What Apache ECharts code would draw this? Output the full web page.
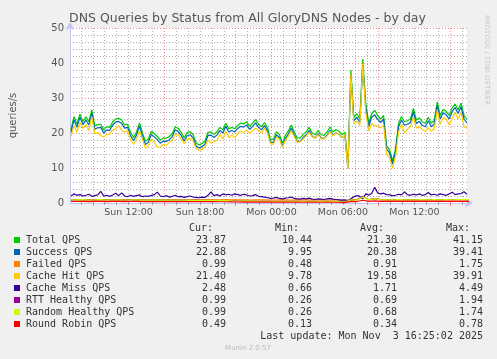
<!DOCTYPE html>
<html><head><meta charset="utf-8">
<script src="https://cdn.jsdelivr.net/npm/echarts@6/dist/echarts.min.js"></script>
<style>html,body{margin:0;padding:0;background:#F0F0F0}#c{width:497px;height:359px}</style>
</head><body><div id="c"></div>
<script>
// ---- time axis (hours since Sun 00:00) ----
const axisStartHour = 7 + 5/60;     // Sun 07:05
const axisEndHour = 40 + 25/60;     // Mon 16:25
const labelHours = [12, 18, 24, 30, 36];
const labelTexts = ['Sun 12:00', 'Sun 18:00', 'Mon 00:00', 'Mon 06:00', 'Mon 12:00'];
const majorGridHours = [9, 15, 21, 27, 33, 39];
const minorGridHours = [8,10,11,12,13,14,16,17,18,19,20,22,23,24,25,26,28,29,30,31,32,34,35,36,37,38,40];
const yTicks = [0, 10, 20, 30, 40, 50];

// main series: 15 minute samples from Sun 07:10
const mainStart = 7 + 10/60, mainStep = 0.25;
const totalQPS = [
21.0,24.7,22.5,25.4,23.3,24.6,23.2,26.6,22.0,22.4,
22.5,20.9,21.8,21.6,23.2,24.0,24.2,23.7,22.3,22.5,
20.2,18.7,20.3,22.9,20.0,17.6,18.3,20.5,19.8,19.0,
18.0,18.6,18.5,19.0,19.8,21.8,21.3,20.2,18.6,20.1,
20.4,19.5,17.2,16.6,17.0,17.7,20.2,20.3,19.6,20.3,
21.6,20.9,22.8,21.2,21.6,21.2,22.2,22.8,22.6,23.2,
21.9,22.8,23.8,22.5,21.8,23.0,21.5,18.2,18.2,20.4,
19.6,17.1,19.3,20.6,22.3,20.2,18.5,18.6,19.6,20.4,
21.6,20.0,19.5,20.7,19.5,19.3,20.3,21.7,20.3,21.0,
20.5,19.5,20.2,10.44,38.0,24.5,25.5,24.0,41.15,28.5,
22.8,25.5,26.5,25.0,24.0,25.0,16.3,15.2,12.0,15.5,
22.8,24.7,23.2,23.5,24.0,27.0,23.7,24.3,23.2,22.8,
24.5,22.8,23.6,28.9,25.0,26.8,26.2,25.0,27.2,28.3,
26.6,28.5,25.0,23.87];
const successQPS = [
20.1,23.8,21.6,24.5,22.4,23.7,22.3,25.7,21.1,21.5,
21.6,20.0,20.9,20.7,22.3,23.1,23.3,22.8,21.4,21.6,
19.3,17.8,19.4,22.0,19.1,16.7,17.4,19.6,18.9,18.1,
17.1,17.7,17.6,18.1,18.9,20.9,20.4,19.3,17.7,19.2,
19.5,18.6,16.3,15.7,16.1,16.8,19.3,19.4,18.7,19.4,
20.7,20.0,21.9,20.3,20.7,20.3,21.3,21.9,21.7,22.3,
21.0,21.9,22.9,21.6,20.9,22.1,20.6,17.3,17.3,19.5,
18.7,16.2,18.4,19.7,21.4,19.3,17.6,17.7,18.7,19.5,
20.7,19.1,18.6,19.8,18.6,18.4,19.4,20.8,19.4,20.1,
19.6,18.6,19.3,9.95,36.6,23.5,24.5,23.0,39.41,27.4,
21.8,24.5,25.2,23.9,23.0,24.0,15.4,14.3,11.1,14.6,
21.8,23.7,22.2,22.5,23.0,26.0,22.7,23.3,22.2,21.8,
23.5,21.8,22.6,27.8,24.0,25.8,25.2,24.0,26.1,27.3,
25.6,27.5,24.0,22.88];
const cacheHitQPS = [
19.0,22.1,20.3,23.0,21.3,22.4,20.7,24.7,19.9,20.1,
19.2,18.9,19.6,19.7,20.9,21.2,22.1,20.8,20.3,20.7,
18.0,16.8,18.2,20.6,18.2,15.6,16.4,18.3,17.4,15.9,
16.0,16.8,16.4,17.3,17.9,19.6,19.5,18.3,17.0,18.3,
18.4,17.8,15.6,15.1,15.3,16.1,18.0,17.1,17.5,17.9,
19.6,18.3,20.5,18.7,19.4,18.6,19.8,20.6,20.1,20.9,
19.9,20.7,21.4,20.6,20.0,21.3,20.0,16.9,16.8,18.8,
18.3,15.9,17.9,19.1,20.6,18.9,17.3,17.5,18.3,19.2,
20.2,18.9,18.5,19.5,18.4,18.3,19.1,20.4,19.2,20.0,
19.6,18.7,19.3,9.78,36.8,22.7,23.4,22.1,39.91,25.9,
20.6,22.7,22.0,22.1,21.4,22.2,13.9,12.9,9.9,13.3,
20.3,22.4,20.0,21.1,21.8,24.5,21.4,21.7,21.0,20.4,
21.5,20.5,21.1,26.7,22.4,24.4,24.0,22.4,24.1,25.9,
24.0,25.8,21.8,21.40];
const cacheMissQPS = [
2.0,2.6,2.2,2.4,2.0,2.2,2.5,1.9,2.1,2.3,
3.3,2.0,2.2,1.9,2.3,2.8,2.1,2.9,2.0,1.8,
2.2,1.9,2.1,2.3,1.8,2.0,1.9,2.2,2.4,3.1,
2.0,1.8,2.1,1.7,1.9,2.2,1.8,1.9,1.6,1.8,
2.0,1.7,1.6,1.5,1.7,1.6,2.2,3.2,2.1,2.4,
2.0,2.6,2.3,2.5,2.2,2.6,2.4,2.2,2.5,2.3,
2.0,2.1,2.4,1.9,1.8,1.7,1.5,1.3,1.4,1.6,
1.3,1.2,1.4,1.5,1.7,1.3,1.2,1.1,1.3,1.2,
1.4,1.1,1.0,1.2,1.1,1.0,1.2,1.3,1.1,1.0,
0.9,0.8,0.9,0.66,1.2,1.8,2.1,1.9,1.24,2.6,
2.2,2.8,4.49,2.9,2.6,2.8,2.4,2.3,2.1,2.2,
2.5,2.3,3.2,2.4,2.2,2.5,2.3,2.6,2.2,2.4,
3.0,2.3,2.5,2.2,2.6,2.4,2.2,2.6,3.1,2.4,
2.6,2.7,3.2,2.48];

// small series: 30 minute samples from Sun 07:10
const smallStart = 7 + 10/60, smallStep = 0.5;
const failedQPS = [
0.95,1.0,0.92,0.98,0.9,0.96,1.0,0.93,0.9,0.97,
0.94,0.9,0.95,0.92,0.88,0.9,0.93,0.9,0.87,0.9,
0.92,0.89,0.9,0.94,0.9,0.92,0.95,0.9,0.88,0.9,
0.86,0.88,0.9,0.87,0.85,0.88,0.9,0.86,0.88,0.9,
0.87,0.85,0.88,0.86,0.9,0.88,0.48,1.1,1.0,1.75,
1.0,1.2,0.95,0.92,0.9,0.96,0.93,0.9,0.95,0.92,
0.97,0.94,0.9,0.96,0.93,0.98,0.99,0.99];
const rttHealthyQPS = [
0.92,0.88,0.95,0.85,0.9,0.97,0.86,0.9,0.93,0.84,
0.88,0.91,0.85,0.82,0.88,0.8,0.84,0.78,0.82,0.79,
0.75,0.8,0.77,0.74,0.78,0.72,0.7,0.62,0.58,0.55,
0.6,0.52,0.5,0.55,0.48,0.5,0.46,0.52,0.48,0.45,
0.5,0.47,0.44,0.48,0.45,0.42,0.26,0.9,0.85,1.94,
0.9,1.3,0.95,0.88,0.92,0.96,0.9,0.94,0.88,0.95,
0.92,0.97,0.9,0.96,0.93,0.98,0.99,0.99];
const randomHealthyQPS = [
0.9,0.87,0.94,0.86,0.9,0.95,0.85,0.9,0.92,0.85,
0.87,0.9,0.84,0.82,0.87,0.8,0.83,0.78,0.81,0.78,
0.75,0.79,0.76,0.74,0.77,0.72,0.7,0.62,0.57,0.55,
0.59,0.52,0.5,0.54,0.48,0.5,0.46,0.51,0.48,0.45,
0.49,0.47,0.44,0.47,0.45,0.42,0.26,0.88,0.84,1.74,
0.9,1.25,0.94,0.88,0.91,0.95,0.9,0.93,0.88,0.94,
0.92,0.96,0.9,0.95,0.93,0.97,0.99,0.99];
const roundRobinQPS = [
0.45,0.43,0.47,0.42,0.45,0.48,0.42,0.45,0.46,0.42,
0.43,0.45,0.42,0.41,0.43,0.4,0.41,0.39,0.4,0.39,
0.37,0.39,0.38,0.37,0.38,0.36,0.35,0.31,0.28,0.27,
0.29,0.26,0.25,0.27,0.24,0.25,0.23,0.25,0.24,0.22,
0.24,0.23,0.22,0.23,0.22,0.21,0.13,0.44,0.42,0.78,
0.45,0.62,0.47,0.44,0.45,0.47,0.45,0.46,0.44,0.47,
0.46,0.48,0.45,0.47,0.46,0.48,0.49,0.49];

// legend table
const seriesNames = ['Total QPS','Success QPS','Failed QPS','Cache Hit QPS','Cache Miss QPS','RTT Healthy QPS','Random Healthy QPS','Round Robin QPS'];
const seriesColors = ['#00CC00','#0066B3','#FF8000','#FFCC00','#330099','#990099','#CCFF00','#FF0000'];
const curVals = ['23.87','22.88','0.99','21.40','2.48','0.99','0.99','0.49'];
const minVals = ['10.44','9.95','0.48','9.78','0.66','0.26','0.26','0.13'];
const avgVals = ['21.30','20.38','0.91','19.58','1.71','0.69','0.68','0.34'];
const maxVals = ['41.15','39.41','1.75','39.91','4.49','1.94','1.74','0.78'];
const statHeaders = ['Cur:','Min:','Avg:','Max:'];

const seriesData = [
  [mainStart, mainStep, totalQPS],
  [mainStart, mainStep, successQPS],
  [smallStart, smallStep, failedQPS],
  [mainStart, mainStep, cacheHitQPS],
  [mainStart, mainStep, cacheMissQPS],
  [smallStart, smallStep, rttHealthyQPS],
  [smallStart, smallStep, randomHealthyQPS],
  [smallStart, smallStep, roundRobinQPS]
];
function pairs(start, step, arr){ return arr.map((v,i)=>[start+i*step, v]); }

const chart = echarts.init(document.getElementById('c'), null, {renderer:'canvas'});
const gridL = 67, gridT = 28, gridW = 400, gridH = 175;
const minorColor = 'rgba(110,110,110,0.55)';
const majorColor = 'rgba(230,80,80,0.65)';
const axisColor = '#C4C4F4';

const graphics = [];
graphics.push({type:'text', x:69, y:19, style:{text:'DNS Queries by Status from All GloryDNS Nodes - by day', font:'12.5px "DejaVu Sans"', fill:'#555', verticalAlign:'middle'}});
graphics.push({type:'text', x:487, y:15, rotation:-Math.PI/2, style:{text:'RRDTOOL / TOBI OETIKER', font:'7px "DejaVu Sans"', fill:'#c8c8c8', align:'left', verticalAlign:'middle'}});
const mono = '10px "DejaVu Sans Mono"';
const colX = [226, 312, 397, 483];
const headX = [213, 299, 384, 470];
statHeaders.forEach((h,k)=>graphics.push({type:'text', x:headX[k], y:228, style:{text:h, font:mono, fill:'#333', align:'right', verticalAlign:'middle'}}));
seriesNames.forEach((n,i)=>{
  const y = 240 + 12*i;
  graphics.push({type:'rect', shape:{x:14, y:y-3, width:6, height:6}, style:{fill:seriesColors[i]}});
  graphics.push({type:'text', x:26, y:y, style:{text:n, font:mono, fill:'#333', verticalAlign:'middle'}});
  [curVals,minVals,avgVals,maxVals].forEach((arr,k)=>graphics.push({type:'text', x:colX[k], y:y, style:{text:arr[i], font:mono, fill:'#333', align:'right', verticalAlign:'middle'}}));
});
graphics.push({type:'text', x:483, y:336, style:{text:'Last update: Mon Nov  3 16:25:02 2025', font:mono, fill:'#333', align:'right', verticalAlign:'middle'}});
graphics.push({type:'text', x:248, y:348, style:{text:'Munin 2.0.57', font:'7px "DejaVu Sans"', fill:'#bbb', align:'center', verticalAlign:'middle'}});

chart.setOption({
  backgroundColor:'#F0F0F0',
  animation:false,
  grid:{left:gridL, top:gridT, width:gridW, height:gridH, show:true, backgroundColor:'#FFFFFF', borderWidth:0},
  xAxis:[
    {type:'value', position:'bottom', min:axisStartHour, max:axisEndHour,
     axisLine:{show:false}, axisLabel:{show:false},
     axisTick:{show:true, customValues:minorGridHours, length:2, lineStyle:{color:minorColor}},
     splitLine:{show:true, lineStyle:{color:minorColor, width:1, type:[1,2]}}},
    {type:'value', position:'bottom', min:axisStartHour, max:axisEndHour,
     axisLine:{show:true, symbol:['none','arrow'], symbolSize:[7,8], symbolOffset:[0,6], lineStyle:{color:axisColor, width:1}},
     axisTick:{show:true, customValues:majorGridHours, length:3, lineStyle:{color:majorColor}},
     axisLabel:{show:true, customValues:labelHours, margin:5, color:'#555', fontSize:9.5, fontFamily:'DejaVu Sans',
       formatter:(v)=>{ const k = labelHours.findIndex(h=>Math.abs(h-v)<1e-6); return k>=0 ? labelTexts[k] : ''; }},
     splitLine:{show:true, lineStyle:{color:majorColor, width:1, type:[1,2]}}}
  ],
  yAxis:[{type:'value', min:yTicks[0], max:yTicks[yTicks.length-1], interval:10,
    name:'queries/s', nameLocation:'middle', nameGap:52, nameRotate:90,
    nameTextStyle:{color:'#555', fontSize:10, fontFamily:'DejaVu Sans'},
    axisLine:{show:true, symbol:['none','arrow'], symbolSize:[7,8], symbolOffset:[0,6], lineStyle:{color:axisColor, width:1}},
    axisTick:{show:false},
    axisLabel:{color:'#555', fontSize:10, fontFamily:'DejaVu Sans', margin:6},
    splitLine:{show:true, lineStyle:{color:majorColor, width:1, type:[1,2]}},
    minorTick:{show:false, splitNumber:5},
    minorSplitLine:{show:true, lineStyle:{color:minorColor, width:1, type:[1,2]}}
  }],
  series: seriesData.map((d,i)=>({
    type:'line', name:seriesNames[i], xAxisIndex:1, yAxisIndex:0,
    data:pairs(d[0], d[1], d[2]), showSymbol:false, symbol:'none', silent:true, clip:true,
    lineStyle:{color:seriesColors[i], width:1.2}, itemStyle:{color:seriesColors[i]}
  })),
  graphic:graphics
});
</script></body></html>
